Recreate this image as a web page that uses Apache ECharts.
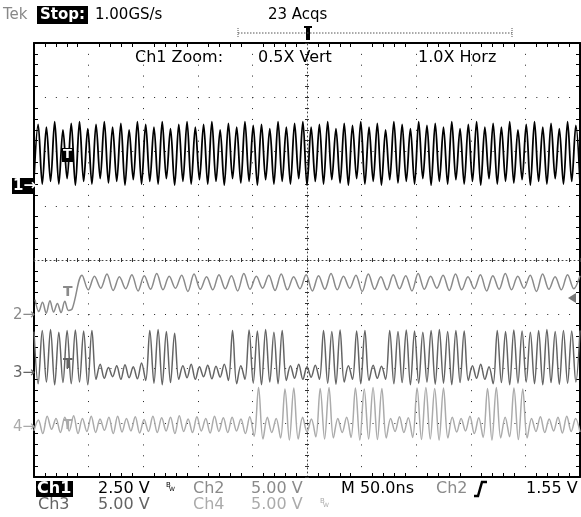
<!DOCTYPE html>
<html>
<head>
<meta charset="utf-8">
<title>Tek scope capture</title>
<script src="https://cdn.jsdelivr.net/npm/echarts@6/dist/echarts.min.js"></script>
<style>
html, body { margin: 0; padding: 0; background: #fff; }
#scope { width: 581px; height: 517px; }
</style>
</head>
<body>
<div id="scope"></div>
<script>
// horizontal: time in ns, M 50.0ns per division, 10 divisions
const timeMin = -250
const timeMax = 250
const timePerDiv = 50
// vertical: screen divisions, 8 of them
const divMin = -4
const divMax = 4

// Ch1, successive trough/peak levels (div) across the screen
const ch1 = [
    1.50, 2.50, 1.40, 2.45, 1.45, 2.55, 1.40, 2.40, 1.50, 2.52,
    1.38, 2.55, 1.45, 2.42, 1.40, 2.50, 1.50, 2.55, 1.42, 2.45,
    1.45, 2.52, 1.38, 2.40, 1.48, 2.55, 1.40, 2.50, 1.45, 2.45,
    1.40, 2.55, 1.50, 2.42, 1.38, 2.50, 1.45, 2.55, 1.40, 2.45,
    1.48, 2.50, 1.40, 2.55, 1.45, 2.40, 1.38, 2.52, 1.50, 2.45,
    1.42, 2.55, 1.45, 2.48, 1.38, 2.50, 1.48, 2.42, 1.40, 2.55,
    1.45, 2.45, 1.40, 2.52, 1.50, 2.55, 1.38, 2.45, 1.45, 2.50,
    1.40, 2.55, 1.48, 2.42, 1.42, 2.52, 1.38, 2.48, 1.50, 2.55,
    1.40, 2.45, 1.45, 2.52, 1.38, 2.40, 1.48, 2.55, 1.42, 2.50,
    1.45, 2.42, 1.40, 2.55, 1.50, 2.48, 1.38, 2.52, 1.45, 2.45,
    1.40, 2.55, 1.48, 2.42, 1.40, 2.50, 1.45, 2.55, 1.38, 2.45,
    1.50, 2.52, 1.40, 2.45, 1.45, 2.55, 1.42, 2.40, 1.48, 2.50,
    1.38, 2.55, 1.45, 2.45, 1.40, 2.52, 1.50, 2.42, 1.40, 2.55,
    1.45, 2.48, 1.42
]

// Ch2 before the trigger edge, then after it
const ch2PreTimes = [-249, -215]
const ch2Pre = [-0.73, -0.95, -0.78, -0.98, -0.75, -0.96, -0.80, -0.97, -0.76, -0.93, -0.90]
const ch2PostTimes = [-206, 250]
const ch2Post = [
    -0.28, -0.55, -0.30, -0.52, -0.26, -0.56, -0.31, -0.53, -0.27, -0.57,
    -0.29, -0.54, -0.25, -0.55, -0.30, -0.52, -0.28, -0.58, -0.26, -0.54,
    -0.31, -0.55, -0.27, -0.53, -0.29, -0.57, -0.25, -0.54, -0.30, -0.52,
    -0.28, -0.56, -0.26, -0.55, -0.31, -0.53, -0.27, -0.57, -0.29, -0.54,
    -0.25, -0.55, -0.30, -0.52, -0.28, -0.58, -0.26, -0.54, -0.31, -0.55,
    -0.27, -0.53, -0.29, -0.57, -0.25, -0.54, -0.30, -0.52, -0.28, -0.56,
    -0.26, -0.55, -0.31, -0.53, -0.27, -0.57, -0.29, -0.54, -0.25, -0.55,
    -0.30, -0.52, -0.28, -0.58, -0.26, -0.54, -0.31, -0.55, -0.27, -0.53,
    -0.29
]

// Ch3, bursts and quiet stretches
const ch3 = [
    -1.32, -2.28, -1.30, -2.25, -1.28, -2.30, -1.33, -2.26, -1.30, -2.28, -1.29, -2.25, -1.31, -2.30, -1.30, -2.20,
    -1.92, -2.18, -1.98, -2.15, -1.95, -2.20, -1.93, -2.17, -1.97, -2.19, -1.90, -2.22,
    -1.30, -2.27, -1.28, -2.30, -1.32, -2.26, -1.35, -2.20,
    -1.95, -2.17, -1.92, -2.20, -1.97, -2.15, -1.94, -2.19, -1.96, -2.16, -1.92, -2.22,
    -1.30, -2.28,
    -1.95, -2.20,
    -1.29, -2.27, -1.31, -2.30, -1.28, -2.25, -1.33, -2.28, -1.30,
    -2.22, -1.95, -2.18, -1.92, -2.20, -1.97, -2.16, -1.94, -2.20,
    -1.30, -2.27, -1.32, -2.29, -1.29, -2.25,
    -1.95, -2.20,
    -1.31, -2.28, -1.30,
    -2.22, -1.94, -2.18, -1.96, -2.20,
    -1.30, -2.28, -1.32, -2.26, -1.29, -2.30, -1.31, -2.27, -1.33, -2.25, -1.30, -2.29, -1.28, -2.27, -1.32, -2.30, -1.30, -2.26, -1.31,
    -2.22, -1.95, -2.18, -1.92, -2.20, -1.97,
    -2.28, -1.30, -2.26, -1.32, -2.30, -1.29, -2.27, -1.31, -2.25, -1.33, -2.28, -1.30, -2.30, -1.28, -2.26, -1.32, -2.29, -1.30, -2.27, -1.31, -2.25, -1.30
]

// Ch4
const ch4 = [
    -3.15, -2.95, -3.20, -2.88, -3.12, -2.92, -3.18, -2.90, -3.15, -2.87,
    -3.20, -2.92, -3.16, -2.88, -3.18, -2.93, -3.14, -2.90, -3.20, -2.88,
    -3.17, -2.92, -3.15, -2.89, -3.19, -2.94, -3.16, -2.88, -3.18, -2.91,
    -3.15, -2.90, -3.20, -2.87, -3.16, -2.93, -3.18, -2.89, -3.15, -2.92,
    -3.19, -2.88, -3.16, -2.91, -3.18, -2.90, -3.15, -2.93, -3.20, -2.89,
    -3.25, -2.35, -3.30, -2.90, -3.18, -2.92, -3.28, -2.38, -3.32, -2.36,
    -3.30, -2.90, -3.17, -2.93, -3.26, -2.37, -3.30, -2.35, -3.28, -2.92,
    -3.18, -2.90, -3.27, -2.36, -3.32, -2.38, -3.30, -2.35, -3.31, -2.37,
    -3.28, -2.92, -3.16, -2.89, -3.18, -2.91, -3.27, -2.36, -3.31, -2.35,
    -3.30, -2.37, -3.32, -2.36, -3.28, -2.90, -3.17, -2.92, -3.15, -2.88,
    -3.20, -2.91, -3.27, -2.37, -3.32, -2.35, -3.28, -2.90, -3.26, -2.36,
    -3.31, -2.38, -3.28, -2.92, -3.16, -2.89, -3.18, -2.93, -3.15, -2.90,
    -3.19, -2.88, -3.16, -2.92, -3.17
]

// spread a run of levels evenly over a time span
function spread(values, t0, t1) {
    let step = (t1 - t0) / (values.length - 1)
    return values.map(function (v, i) {
        return [t0 + i * step, v]
    })
}

const font = '"DejaVu Sans", sans-serif'
const gray2 = "#8a8a8a"
const gray3 = "#646464"
const gray4 = "#ababab"

let chart = echarts.init(document.getElementById("scope"))

let minorTick = { show: true, splitNumber: 5, length: 4, lineStyle: { color: "#000", width: 1 } }

// frame edges: ticks inside, no labels
function frameAxis(position, split) {
    let vertical = position == "left" || position == "right"
    return {
        type: "value",
        position: position,
        min: vertical ? divMin : timeMin,
        max: vertical ? divMax : timeMax,
        interval: vertical ? 1 : timePerDiv,
        axisLine: { show: true, onZero: false, lineStyle: { color: "#000", width: 2 } },
        axisTick: { show: false, inside: true },
        minorTick: minorTick,
        axisLabel: { show: false },
        splitLine: split
    }
}

// centre cross-hair, ticks on one side per axis
function centreAxis(position, inside, vertical, showLine) {
    return {
        type: "value",
        position: position,
        min: vertical ? divMin : timeMin,
        max: vertical ? divMax : timeMax,
        interval: vertical ? 1 : timePerDiv,
        axisLine: { show: showLine, onZero: true, onZeroAxisIndex: 0, lineStyle: { color: "#444", width: 1, type: [1, 3] } },
        axisTick: { show: true, inside: inside, length: 2, lineStyle: { color: "#333" } },
        minorTick: { show: true, splitNumber: 5, length: 2, lineStyle: { color: "#333" } },
        axisLabel: { show: false },
        splitLine: { show: false }
    }
}

function label(text, x, y, fill, size, weight) {
    return {
        type: "text", x: x, y: y, z: 100,
        style: {
            text: text, fill: fill, verticalAlign: "middle",
            font: (weight || "normal") + " " + size + "px " + font
        }
    }
}

function box(x, y, w, h) {
    return { type: "rect", z: 99, shape: { x: x, y: y, width: w, height: h }, style: { fill: "#000" } }
}

let option = {
    backgroundColor: "#fff",
    animation: false,
    grid: { left: 34, right: 1, top: 43, bottom: 40 },
    xAxis: [
        frameAxis("bottom", { show: true, lineStyle: { color: "#222", width: 1, type: [1, 9.85] } }),
        frameAxis("top", { show: false }),
        centreAxis("bottom", true, false, true),
        centreAxis("bottom", false, false, false)
    ],
    yAxis: [
        frameAxis("left", { show: true, lineStyle: { color: "#222", width: 1, type: [1, 9.92] } }),
        frameAxis("right", { show: false }),
        centreAxis("left", true, true, true),
        centreAxis("left", false, true, false)
    ],
    series: [
        {
            name: "Ch1", type: "line", data: spread(ch1, timeMin, timeMax),
            showSymbol: false, smooth: 0.35, lineStyle: { color: "#000", width: 1.8 }, z: 5
        },
        {
            name: "Ch2", type: "line",
            data: spread(ch2Pre, ch2PreTimes[0], ch2PreTimes[1]).concat(spread(ch2Post, ch2PostTimes[0], ch2PostTimes[1])),
            showSymbol: false, smooth: 0.35, lineStyle: { color: gray2, width: 1.5 }, z: 4
        },
        {
            name: "Ch3", type: "line", data: spread(ch3, timeMin, timeMax),
            showSymbol: false, smooth: 0.35, lineStyle: { color: gray3, width: 1.5 }, z: 4
        },
        {
            name: "Ch4", type: "line", data: spread(ch4, timeMin, timeMax),
            showSymbol: false, smooth: 0.35, lineStyle: { color: gray4, width: 1.5 }, z: 3
        }
    ],
    graphic: {
        elements: [
            // header
            label("Tek", 3, 15, "#888", 15),
            box(37, 6, 51, 18),
            label("Stop:", 40, 15, "#fff", 15, "bold"),
            label("1.00GS/s", 95, 15, "#000", 15),
            label("23 Acqs", 268, 15, "#000", 15),
            { type: "line", z: 100, shape: { x1: 238, y1: 33, x2: 512, y2: 33 }, style: { stroke: "#555", lineWidth: 1, lineDash: [1.5, 1.5] } },
            { type: "line", z: 100, shape: { x1: 238, y1: 28, x2: 238, y2: 38 }, style: { stroke: "#555", lineWidth: 1, lineDash: [1, 1] } },
            { type: "line", z: 100, shape: { x1: 512, y1: 28, x2: 512, y2: 38 }, style: { stroke: "#555", lineWidth: 1, lineDash: [1, 1] } },
            box(306, 27, 4, 13),
            box(304, 26, 8, 2),
            label("Ch1 Zoom:", 135, 58, "#000", 16),
            label("0.5X Vert", 258, 58, "#000", 16),
            label("1.0X Horz", 418, 58, "#000", 16),
            // channel ground markers
            box(12, 178, 22, 16),
            label("1→", 13, 186, "#fff", 15, "bold"),
            label("2→", 13, 315, gray2, 15),
            label("3→", 13, 373, gray3, 15),
            label("4→", 13, 427, gray4, 15),
            // trigger markers on the traces
            box(62, 148, 11, 14),
            label("T", 63, 155, "#fff", 13, "bold"),
            label("T", 63, 292, gray2, 14, "bold"),
            label("T", 63, 364, gray3, 14, "bold"),
            label("T", 63, 425, gray4, 14, "bold"),
            { type: "polygon", z: 100, shape: { points: [[568, 298], [576, 293], [576, 303]] }, style: { fill: "#777" } },
            // readout
            box(36, 481, 37, 16),
            label("Ch1", 37, 489, "#fff", 16, "bold"),
            label("2.50 V", 98, 489, "#000", 16),
            label("B", 166, 485, "#000", 7),
            label("W", 169, 489, "#000", 6),
            label("Ch2", 193, 489, gray2, 16),
            label("5.00 V", 251, 489, gray2, 16),
            label("M 50.0ns", 341, 489, "#000", 16),
            label("Ch2", 436, 489, gray2, 16),
            { type: "polyline", z: 100, shape: { points: [[474, 496], [478, 496], [482, 482], [487, 482]] }, style: { stroke: "#000", lineWidth: 2.5, fill: null } },
            label("1.55 V", 526, 489, "#000", 16),
            label("Ch3", 38, 505, gray3, 16),
            label("5.00 V", 98, 505, gray3, 16),
            label("Ch4", 193, 505, gray4, 16),
            label("5.00 V", 251, 505, gray4, 16),
            label("B", 320, 501, gray4, 7),
            label("W", 323, 505, gray4, 6)
        ]
    }
}

chart.setOption(option)
</script>
</body>
</html>
